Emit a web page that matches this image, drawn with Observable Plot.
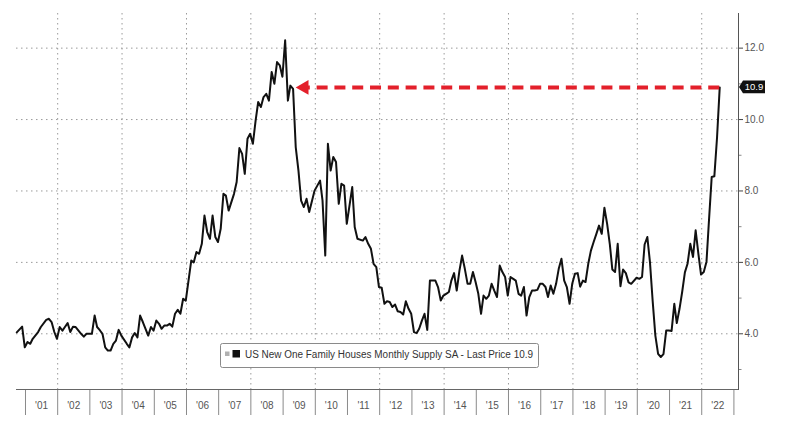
<!DOCTYPE html>
<html><head><meta charset="utf-8">
<script src="https://cdn.jsdelivr.net/npm/d3@7"></script>
<script src="https://cdn.jsdelivr.net/npm/@observablehq/plot@0.6"></script>
<style>html,body{margin:0;padding:0;background:#fff;} svg{display:block;}</style>
</head><body><div id="chart"></div>
<script>
// Months (YYYY-MM) and US new one-family houses monthly supply (months, SA)
const months = [
"2000-09","2000-11","2000-12",
"2001-01","2001-02","2001-03","2001-05","2001-06","2001-08","2001-09","2001-10","2001-11","2001-12",
"2002-01","2002-02","2002-03","2002-04","2002-05","2002-06","2002-07","2002-09","2002-10","2002-11",
"2003-01","2003-02","2003-03","2003-04","2003-05","2003-06","2003-07","2003-08","2003-09","2003-10","2003-11","2003-12",
"2004-02","2004-03","2004-04","2004-05","2004-06","2004-07","2004-08","2004-10","2004-11","2004-12",
"2005-01","2005-02","2005-03","2005-04","2005-05","2005-06","2005-07","2005-08","2005-09","2005-10","2005-11","2005-12",
"2006-01","2006-02","2006-03","2006-04","2006-05","2006-06","2006-07","2006-08","2006-09","2006-10","2006-11","2006-12",
"2007-01","2007-02","2007-03","2007-04","2007-06","2007-07","2007-08","2007-09","2007-10","2007-11","2007-12",
"2008-01","2008-02","2008-03","2008-04","2008-05","2008-06","2008-07","2008-08","2008-09","2008-10","2008-11","2008-12",
"2009-01","2009-02","2009-03","2009-04","2009-05","2009-06","2009-07","2009-08","2009-09","2009-10","2009-12",
"2010-02","2010-03","2010-04","2010-05","2010-06","2010-07","2010-08","2010-09","2010-10","2010-11","2010-12",
"2011-02","2011-03","2011-04","2011-06","2011-07","2011-08","2011-09","2011-10","2011-11","2011-12",
"2012-01","2012-02","2012-03","2012-04","2012-05","2012-06","2012-07","2012-08","2012-09","2012-10","2012-11","2012-12",
"2013-01","2013-02","2013-03","2013-04","2013-05","2013-06","2013-07","2013-09","2013-10","2013-11","2013-12",
"2014-01","2014-02","2014-03","2014-04","2014-05","2014-06","2014-07","2014-08","2014-09","2014-10","2014-11","2014-12",
"2015-01","2015-02","2015-03","2015-04","2015-05","2015-06","2015-07","2015-08","2015-09","2015-10","2015-11","2015-12",
"2016-01","2016-02","2016-03","2016-04","2016-05","2016-06","2016-07","2016-08","2016-09","2016-10","2016-11","2016-12",
"2017-01","2017-02","2017-03","2017-04","2017-05","2017-06","2017-07","2017-08","2017-09","2017-10","2017-11","2017-12",
"2018-01","2018-02","2018-03","2018-04","2018-05","2018-06","2018-07","2018-08","2018-09","2018-10","2018-11","2018-12",
"2019-01","2019-02","2019-03","2019-04","2019-05","2019-06","2019-07","2019-08","2019-09","2019-10","2019-12",
"2020-01","2020-02","2020-03","2020-04","2020-05","2020-06","2020-07","2020-08","2020-09","2020-10","2020-11","2020-12",
"2021-01","2021-02","2021-03","2021-04","2021-05","2021-06","2021-07","2021-08","2021-09","2021-10","2021-11","2021-12",
"2022-01","2022-02","2022-03","2022-04","2022-05","2022-06","2022-07"
];
const supply = [
4.04,4.20,3.62,
3.77,3.72,3.86,4.05,4.19,4.39,4.42,4.33,4.05,3.86,
4.19,4.09,4.19,4.30,4.05,4.20,4.19,4.00,3.92,4.00,
4.00,4.51,4.19,4.10,4.00,3.62,3.53,3.53,3.72,3.81,4.11,3.95,
3.72,3.62,3.90,4.02,3.90,4.51,4.33,3.95,4.19,4.09,
4.37,4.28,4.14,4.23,4.23,4.28,4.20,4.56,4.67,4.56,4.98,4.93,
5.49,6.05,6.00,6.29,6.24,6.52,7.31,6.85,6.66,7.31,6.71,6.57,
6.94,7.92,7.87,7.45,7.92,8.25,9.20,9.04,8.48,9.46,9.60,
9.32,9.97,10.49,10.35,10.63,10.72,10.53,11.33,11.00,11.61,11.52,11.20,
12.22,10.53,10.95,10.86,9.23,8.57,7.73,7.55,7.78,7.41,8.01,
8.29,7.73,6.19,9.32,8.57,8.95,8.81,7.64,8.20,8.15,7.08,
8.11,6.99,6.66,6.61,6.71,6.52,6.38,5.96,5.87,5.31,
5.29,4.84,4.91,4.89,4.75,4.82,4.63,4.61,4.54,4.91,4.70,4.56,
4.05,4.02,4.14,4.37,4.56,4.11,5.49,5.49,5.31,4.93,5.07,
5.12,5.17,5.49,5.70,5.21,5.77,6.19,5.82,5.40,5.40,5.73,5.45,
5.12,4.56,5.07,4.98,5.07,5.40,5.21,5.03,5.91,5.73,5.59,5.07,
5.59,5.54,5.49,5.12,5.07,5.31,4.51,5.03,5.21,5.21,5.23,5.40,
5.40,5.31,5.03,5.35,5.12,5.40,5.82,6.10,5.49,5.31,4.84,5.40,
5.68,5.70,5.32,5.49,5.45,5.96,6.33,6.57,6.80,7.03,6.80,7.53,
7.08,6.50,5.80,5.73,6.52,5.33,5.80,5.70,5.44,5.40,5.57,
5.54,5.59,6.50,6.71,6.00,4.90,3.95,3.44,3.35,3.43,4.09,4.09,
4.08,4.84,4.30,4.70,5.17,5.72,5.96,6.52,6.15,6.90,6.24,5.66,
5.73,6.02,7.17,8.39,8.41,9.51,10.90
];
const yearLabels = ["'01","'02","'03","'04","'05","'06","'07","'08","'09","'10","'11","'12","'13","'14","'15","'16","'17","'18","'19","'20","'21","'22"];
const majorY = [4, 6, 8, 10, 12];
const minorY = [3, 5, 7, 9, 11];
const lastPrice = 10.9;
const arrowFrom = "2022-07";   // arrow starts at the last print
const arrowTip = "2009-05";    // arrow head tip
const arrowBase = "2009-09";   // where the dashed shaft meets the head
const legendLabel = "US New One Family Houses Monthly Supply SA - Last Price 10.9";

const toDate = s => { const [y, m] = s.split("-").map(Number); return new Date(Date.UTC(y, m - 1, 24)); };
const data = months.map((m, i) => ({date: toDate(m), value: supply[i]}));
const years = yearLabels.map(l => 2000 + parseInt(l.slice(1), 10));
const yearStarts = years.concat([years[years.length - 1] + 1]).map(y => new Date(Date.UTC(y, 0, 1)));
const gridYears = yearStarts.filter(d => d.getUTCFullYear() % 2 === 0 && d.getUTCFullYear() <= 2022);
const midYears = years.map(y => new Date(Date.UTC(y, 6, 2)));
const red = "#e3202b";

const chart = Plot.plot({
  width: 793, height: 434,
  marginLeft: 16, marginRight: 55, marginTop: 13, marginBottom: 45,
  x: {type: "utc", domain: [new Date(Date.UTC(2000, 8, 21)), new Date(Date.UTC(2023, 1, 22))]},
  y: {domain: [2.44, 12.97]},
  style: {fontFamily: "'Liberation Sans', Arial, sans-serif", fontSize: "10px", background: "#fff", color: "#555"},
  marks: [
    Plot.gridY(majorY, {stroke: "#9a9a9a", strokeOpacity: 1, strokeDasharray: "1.5,3.5"}),
    Plot.gridX(gridYears, {stroke: "#9a9a9a", strokeOpacity: 1, strokeDasharray: "1.5,3.5"}),
    Plot.axisX(yearStarts, {tickSize: 26, tickFormat: () => "", label: null, stroke: "#8a8a8a"}),
    Plot.text(midYears, {x: d => d, text: (d, i) => yearLabels[i], frameAnchor: "bottom", dy: 19, fill: "#555"}),
    Plot.axisY(majorY, {anchor: "right", tickSize: 4, tickPadding: 2, tickFormat: d => d.toFixed(1), label: null, stroke: "#444", fill: "#555"}),
    Plot.axisY(minorY, {anchor: "right", tickSize: 2.5, tickFormat: () => "", label: null, stroke: "#888"}),
    Plot.frame({anchor: "bottom", stroke: "#666"}),
    Plot.frame({anchor: "right", stroke: "#555"}),
    Plot.line(data, {x: "date", y: "value", stroke: "#111", strokeWidth: 2, strokeLinejoin: "round"}),
    Plot.ruleY([{x1: toDate(arrowFrom), x2: toDate(arrowBase), y: lastPrice}], {x1: "x1", x2: "x2", y: "y", stroke: red, strokeWidth: 4, strokeDasharray: "11,6.8"}),
    Plot.dot([{x: toDate(arrowTip), y: lastPrice}], {x: "x", y: "y", symbol: "triangle", rotate: -90, r: 5.5, fill: red, stroke: "none", dx: 8.5})
  ]
});
document.getElementById("chart").appendChild(chart);

// last price tag and legend
const svg = d3.select(chart);
const yc = chart.scale("y").apply(lastPrice);
const xr = chart.scale("x").range[1];
const tag = svg.append("g");
tag.append("path")
  .attr("d", `M${xr + 1},${yc} L${xr + 5},${yc - 6.3} H${xr + 27} V${yc + 6.3} H${xr + 5} Z`)
  .attr("fill", "#111");
tag.append("text").attr("x", xr + 16).attr("y", yc).attr("dy", "0.35em")
  .attr("text-anchor", "middle").attr("fill", "#fff").attr("font-size", 9.5)
  .text(lastPrice.toFixed(1));

const lg = svg.append("g").attr("text-anchor", "start");
lg.append("rect").attr("x", 220.5).attr("y", 343.5).attr("width", 318).attr("height", 24).attr("rx", 2)
  .attr("fill", "#fff").attr("stroke", "#8a8a8a");
lg.append("rect").attr("x", 225).attr("y", 351.5).attr("width", 4.5).attr("height", 4.5).attr("fill", "#b0b0b0");
lg.append("rect").attr("x", 232.5).attr("y", 350).attr("width", 7.5).attr("height", 7.5).attr("fill", "#111");
lg.append("text").attr("x", 245).attr("y", 358).attr("fill", "#333").attr("font-size", 10)
  .attr("text-anchor", "start")
  .attr("textLength", 288).attr("lengthAdjust", "spacingAndGlyphs")
  .text(legendLabel);
</script>
</body></html>
